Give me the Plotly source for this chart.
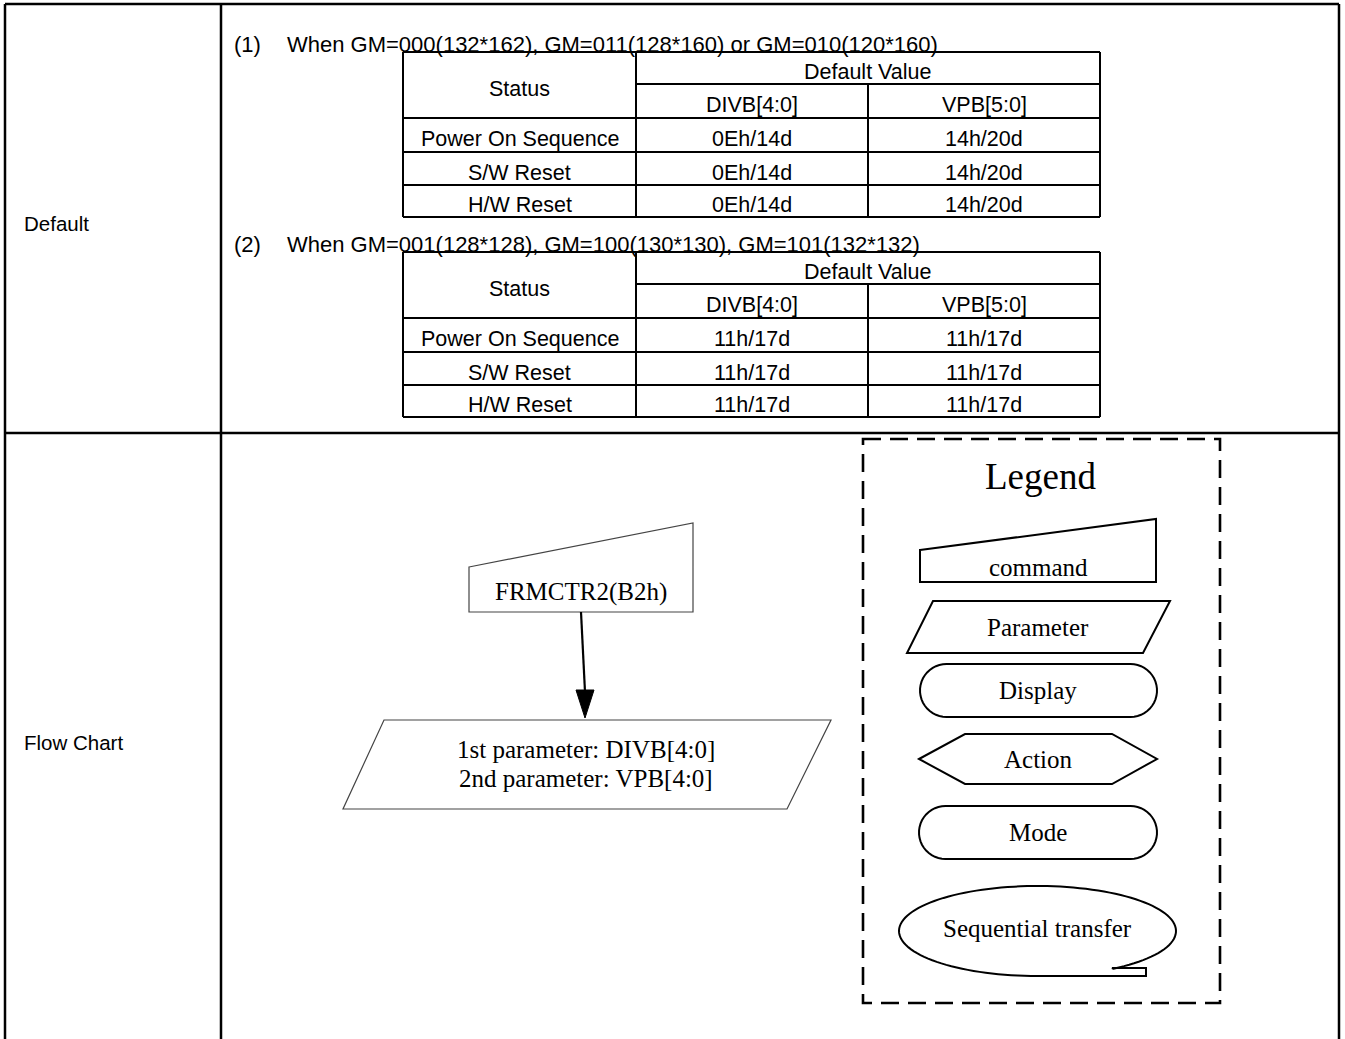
import numpy as np
import plotly.graph_objects as go

# ---------------- data (text content) ----------------
row_labels = ["Default", "Flow Chart"]
cond_numbers = ["(1)", "(2)"]
cond_texts = [
    "When GM=000(132*162), GM=011(128*160) or GM=010(120*160)",
    "When GM=001(128*128), GM=100(130*130), GM=101(132*132)",
]
status_header = "Status"
value_header = "Default Value"
col_heads = ["DIVB[4:0]", "VPB[5:0]"]
statuses = ["Power On Sequence", "S/W Reset", "H/W Reset"]
table1_divb = ["0Eh/14d", "0Eh/14d", "0Eh/14d"]
table1_vpb = ["14h/20d", "14h/20d", "14h/20d"]
table2_divb = ["11h/17d", "11h/17d", "11h/17d"]
table2_vpb = ["11h/17d", "11h/17d", "11h/17d"]
flow_command = "FRMCTR2(B2h)"
flow_params = ["1st parameter: DIVB[4:0]", "2nd parameter: VPB[4:0]"]
legend_title = "Legend"
legend_items = ["command", "Parameter", "Display", "Action", "Mode", "Sequential transfer"]

W, H = 1345, 1039
SANS = "Liberation Sans, Arial, sans-serif"
SERIF = "Liberation Serif, Times New Roman, serif"
SANS_SIZE = 21.5
SERIF_SIZE = 25

shapes = []
annos = []


def line(x0, y0, x1, y1, w=2, color="black", dash=None):
    d = dict(type="line", x0=x0, y0=y0, x1=x1, y1=y1, xref="x", yref="y",
             line=dict(color=color, width=w))
    if dash:
        d["line"]["dash"] = dash
    shapes.append(d)


def poly(pts, w=2, color="black", fill="white"):
    p = "M " + " L ".join(f"{x:.2f},{y:.2f}" for x, y in pts) + " Z"
    shapes.append(dict(type="path", path=p, xref="x", yref="y",
                       line=dict(color=color, width=w), fillcolor=fill))


def text(x, y, s, size=SANS_SIZE, font=SANS, xanchor="center"):
    annos.append(dict(x=x, y=y, xref="x", yref="y", text=s, showarrow=False,
                      xanchor=xanchor, yanchor="middle",
                      font=dict(family=font, size=size, color="black")))


def stadium(x0, x1, y0, y1, n=24):
    r = (y1 - y0) / 2.0
    cy = (y0 + y1) / 2.0
    pts = []
    for t in np.linspace(-np.pi / 2, np.pi / 2, n):
        pts.append((x1 - r + r * np.cos(t), cy + r * np.sin(t)))
    for t in np.linspace(np.pi / 2, 3 * np.pi / 2, n):
        pts.append((x0 + r + r * np.cos(t), cy + r * np.sin(t)))
    return pts


# ---------------- outer frame ----------------
BW = 2.5
line(5, 4, 1339, 4, BW)
line(5, 4, 5, H, BW)
line(1339, 4, 1339, H, BW)
line(221, 4, 221, H, BW)
line(5, 433, 1339, 433, BW)

text(22, 223, row_labels[0], 20.5, SANS, "left")
text(22, 742, row_labels[1], 20.5, SANS, "left")

# ---------------- tables ----------------
TX0, TX1, TX2, TX3 = 403, 636, 868, 1100
for k, (num, cond, dv, vv) in enumerate(zip(cond_numbers, cond_texts,
                                            [table1_divb, table2_divb],
                                            [table1_vpb, table2_vpb])):
    off = 200 * k
    text(232, 44 + off, num, 22, SANS, "left")
    text(285, 44 + off, cond, 22, SANS, "left")
    ys = [52, 84, 118, 152, 185, 217]
    ys = [y + off for y in ys]
    TW = 2
    line(TX0, ys[0], TX3, ys[0], TW)
    line(TX1, ys[1], TX3, ys[1], TW)
    for y in ys[2:]:
        line(TX0, y, TX3, y, TW)
    line(TX0, ys[0], TX0, ys[5], TW)
    line(TX1, ys[0], TX1, ys[5], TW)
    line(TX2, ys[1], TX2, ys[5], TW)
    line(TX3, ys[0], TX3, ys[5], TW)
    dy = 4
    text((TX0 + TX1) / 2, (ys[0] + ys[2]) / 2 + dy, status_header)
    text((TX1 + TX3) / 2, (ys[0] + ys[1]) / 2 + dy, value_header)
    text((TX1 + TX2) / 2, (ys[1] + ys[2]) / 2 + dy, col_heads[0])
    text((TX2 + TX3) / 2, (ys[1] + ys[2]) / 2 + dy, col_heads[1])
    for i in range(3):
        yc = (ys[2 + i] + ys[3 + i]) / 2 + dy
        text((TX0 + TX1) / 2, yc, statuses[i])
        text((TX1 + TX2) / 2, yc, dv[i])
        text((TX2 + TX3) / 2, yc, vv[i])

# ---------------- flow chart ----------------
FC = "#444444"
poly([(469, 567), (693, 523), (693, 612), (469, 612)], 1.2, FC)
text(581, 592, flow_command, SERIF_SIZE, SERIF)
line(581, 612, 585, 692, 2.2)
poly([(576, 690), (594, 690), (585, 718)], 1, "black", "black")
poly([(384, 720), (831, 720), (787, 809), (343, 809)], 1.2, FC)
text(586, 749, flow_params[0], SERIF_SIZE, SERIF)
text(586, 778, flow_params[1], SERIF_SIZE, SERIF)

# ---------------- legend ----------------
shapes.append(dict(type="rect", x0=863, y0=439, x1=1220, y1=1003, xref="x", yref="y",
                   line=dict(color="black", width=2.6, dash="18px,9px")))
text(1040, 476, legend_title, 37, SERIF)

LW = 2
poly([(920, 550), (1156, 519), (1156, 582), (920, 582)], LW)
text(1038, 567, legend_items[0], SERIF_SIZE, SERIF)
poly([(933, 601), (1170, 601), (1143, 653), (907, 653)], LW)
text(1038, 627, legend_items[1], SERIF_SIZE, SERIF)
poly(stadium(920, 1157, 664, 717), LW)
text(1038, 690, legend_items[2], SERIF_SIZE, SERIF)
poly([(919, 759), (965, 734), (1112, 734), (1157, 759), (1112, 784), (965, 784)], LW)
text(1038, 759, legend_items[3], SERIF_SIZE, SERIF)
poly(stadium(919, 1157, 806, 859), LW)
text(1038, 832, legend_items[4], SERIF_SIZE, SERIF)

cx, cy, rx, ry = 1037.5, 931, 138.5, 45
t0 = np.arctan2((968 - cy) / ry, (1112 - cx) / rx)
ts = np.linspace(t0, np.pi / 2 - 2 * np.pi, 120)
ell = [(cx + rx * np.cos(t), cy + ry * np.sin(t)) for t in ts]
ell += [(1146, 976), (1146, 968), (1112, 968)]
poly(ell, LW)
text(1037, 928, legend_items[5], SERIF_SIZE, SERIF)

fig = go.Figure()
fig.add_trace(go.Scatter(x=[0], y=[0], mode="markers", marker=dict(opacity=0),
                         hoverinfo="skip", showlegend=False))
fig.update_layout(
    width=W, height=H, margin=dict(l=0, r=0, t=0, b=0),
    paper_bgcolor="white", plot_bgcolor="white",
    xaxis=dict(range=[0, W], visible=False, fixedrange=True),
    yaxis=dict(range=[H, 0], visible=False, fixedrange=True),
    shapes=shapes, annotations=annos, showlegend=False,
)
fig.write_html("out.html", config={"displayModeBar": False},
               post_script="document.body.style.margin='0';document.body.style.overflow='hidden';")
